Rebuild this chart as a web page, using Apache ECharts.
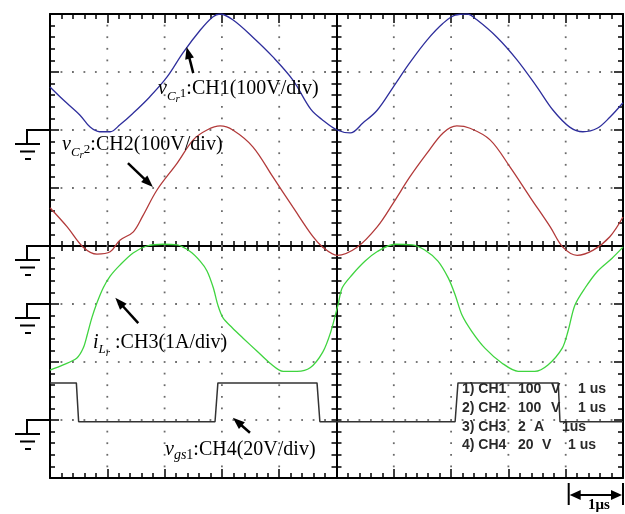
<!DOCTYPE html>
<html><head><meta charset="utf-8">
<script src="https://cdn.jsdelivr.net/npm/echarts@6/dist/echarts.min.js"></script>
<style>html,body{margin:0;padding:0;background:#fff}#c{width:625px;height:514px}</style>
</head><body><div id="c"></div>
<script>
// Time (us, relative to screen centre) and vertical position (divisions, screen centre = 0)
const ch1T = [-5.00,-4.77,-4.48,-4.30,-4.13,-3.95,-3.78,-3.55,-3.26,-2.96,-2.68,-2.38,-2.16,-2.03,-1.81,-1.46,-1.11,-0.76,-0.45,-0.24,0.01,0.24,0.46,0.71,0.99,1.28,1.58,1.86,2.07,2.28,2.45,2.80,3.15,3.50,3.78,4.07,4.30,4.55,4.77,5.00];
const ch1V = [2.74,2.52,2.26,2.05,1.97,1.97,2.09,2.29,2.57,2.91,3.33,3.72,3.95,4.00,3.90,3.60,3.26,2.86,2.36,2.17,2.00,1.95,2.12,2.34,2.74,3.16,3.55,3.84,3.98,4.00,3.90,3.60,3.21,2.74,2.34,2.05,1.97,2.03,2.22,2.47];

const ch2T = [-5.00,-4.70,-4.42,-4.18,-3.95,-3.78,-3.55,-3.38,-3.13,-2.78,-2.50,-2.26,-2.03,-1.81,-1.46,-1.11,-0.76,-0.41,-0.24,0.01,0.36,0.71,0.99,1.28,1.58,1.86,2.10,2.33,2.68,3.03,3.38,3.73,3.95,4.20,4.48,4.77,5.00];
const ch2V = [0.66,0.33,-0.02,-0.14,-0.10,0.10,0.24,0.52,0.97,1.43,1.83,2.00,2.07,2.00,1.71,1.19,0.67,0.16,-0.02,-0.16,-0.02,0.33,0.74,1.19,1.60,1.95,2.07,2.03,1.83,1.36,0.84,0.33,-0.02,-0.16,-0.07,0.16,0.50];

const ch3T = [-5.00,-4.77,-4.53,-4.42,-4.35,-4.27,-4.18,-4.07,-3.95,-3.78,-3.55,-3.31,-3.03,-2.78,-2.56,-2.38,-2.26,-2.15,-2.07,-1.98,-1.82,-1.63,-1.39,-1.16,-0.93,-0.69,-0.46,-0.24,-0.10,0.03,0.10,0.27,0.50,0.72,1.02,1.32,1.54,1.77,1.95,2.07,2.19,2.36,2.59,2.89,3.17,3.46,3.69,3.94,4.04,4.16,4.34,4.56,4.81,5.00];
const ch3V = [-2.14,-2.05,-1.93,-1.76,-1.53,-1.24,-0.98,-0.72,-0.52,-0.33,-0.12,0.00,0.03,0.02,-0.09,-0.26,-0.43,-0.72,-1.02,-1.24,-1.41,-1.59,-1.81,-2.02,-2.16,-2.16,-2.10,-1.83,-1.48,-1.00,-0.72,-0.50,-0.26,-0.09,0.03,0.02,-0.07,-0.26,-0.55,-0.84,-1.19,-1.47,-1.76,-2.02,-2.16,-2.16,-2.05,-1.76,-1.47,-1.02,-0.72,-0.43,-0.21,-0.02];

const ch4T = [-5.00,-4.54,-4.50,-2.12,-2.07,-0.34,-0.29,2.07,2.12,3.87,3.90,5.00];
const ch4V = [-2.36,-2.36,-3.03,-3.03,-2.36,-2.36,-3.03,-3.03,-2.36,-2.36,-3.03,-3.03];

// ground reference level of each channel (divisions)
const groundLevels = [2, 0, -1, -3];

// annotation arrows: [tailX, tailY, headX, headY] in (us, div)
const arrows = [[-2.50,2.98,-2.59,3.33],[-3.64,1.43,-3.28,1.09],[-3.46,-1.33,-3.79,-0.97],[-1.51,-3.22,-1.73,-3.03]];

// scope readout
const readoutRows = [
  ['1) CH1','100','V','1 us'],
  ['2) CH2','100','V','1 us'],
  ['3) CH3','2','A','1us'],
  ['4) CH4','20','V','1 us']
];

const zip = (a, b) => a.map((t, i) => [t, b[i]]);
const chart = echarts.init(document.getElementById('c'), null, {renderer: 'canvas'});

function borderAxis(pos) {
  const isY = pos === 'left' || pos === 'right';
  return {
    type: 'value', min: isY ? -4 : -5, max: isY ? 4 : 5, interval: 1,
    position: pos,
    axisLine: {onZero: false, lineStyle: {color: '#000', width: 2}},
    axisTick: {show: true, inside: true, length: 9, lineStyle: {color: '#000', width: 1.5}},
    minorTick: {show: true, splitNumber: 5, length: 5, lineStyle: {color: '#000', width: 1.5}},
    axisLabel: {show: false},
    splitLine: {show: false},
    minorSplitLine: {show: false}
  };
}
function centreAxis(pos) {
  const isY = pos === 'left' || pos === 'right';
  return {
    type: 'value', min: isY ? -4 : -5, max: isY ? 4 : 5, interval: 1,
    position: pos,
    axisLine: {onZero: true, onZeroAxisIndex: 0, lineStyle: {color: '#000', width: 2}},
    axisTick: {show: true, inside: false, length: 5, lineStyle: {color: '#000', width: 1.5}},
    minorTick: {show: true, splitNumber: 5, length: 5, lineStyle: {color: '#000', width: 1.5}},
    axisLabel: {show: false},
    splitLine: {show: false},
    minorSplitLine: {show: false}
  };
}

const lineSeries = (data, color, w, smooth) => ({
  type: 'line', data, xAxisIndex: 0, yAxisIndex: 0, showSymbol: false, symbol: 'none',
  smooth, lineStyle: {color, width: w}, silent: true, animation: false, clip: true, z: 3
});

const s1 = lineSeries(zip(ch1T, ch1V), '#2e2e9c', 1.3, 0.35);
s1.markLine = {
  silent: true, symbol: ['none', 'triangle'], symbolSize: [9, 12],
  label: {show: false}, emphasis: {disabled: true},
  lineStyle: {color: '#000', width: 2.5, type: 'solid'},
  data: arrows.map(a => [{coord: [a[0], a[1]]}, {coord: [a[2], a[3]]}])
};

chart.setOption({
  animation: false,
  backgroundColor: '#fff',
  grid: {left: 50, top: 14, width: 573, height: 464, containLabel: false},
  xAxis: [borderAxis('bottom'), borderAxis('top'), centreAxis('bottom'), centreAxis('top')],
  yAxis: [borderAxis('left'), borderAxis('right'), centreAxis('left'), centreAxis('right')],
  series: [
    s1,
    lineSeries(zip(ch2T, ch2V), '#b23a3a', 1.3, 0.35),
    lineSeries(zip(ch3T, ch3V), '#3fd43f', 1.3, 0.3),
    lineSeries(zip(ch4T, ch4V), '#333333', 1.5, false)
  ]
});

const px = (x, y) => chart.convertToPixel({gridIndex: 0}, [x, y]);
const gLeft = px(-5, 0)[0];
const graphics = [];

// dotted graticule: a dot at every minor step along each division line
const dot = (x, y) => graphics.push({type: 'rect', silent: true, z: 1,
  shape: {x: x - 0.9, y: y - 0.9, width: 1.8, height: 1.8}, style: {fill: '#6a6a6a'}});
for (let k = -4; k <= 4; k++) {
  if (k === 0) continue;
  for (let j = -19; j <= 19; j++) { const p = px(k, j / 5); dot(p[0], p[1]); }
}
for (let k = -3; k <= 3; k++) {
  if (k === 0) continue;
  for (let j = -24; j <= 24; j++) { if (j % 5 === 0) continue; const p = px(j / 5, k); dot(p[0], p[1]); }
}

// ground symbols
groundLevels.forEach(g => {
  const y = px(0, g)[1];
  const ls = {stroke: '#000', lineWidth: 2, fill: null};
  graphics.push({type: 'polyline', shape: {points: [[gLeft, y], [27, y], [27, y + 14]]}, style: ls, silent: true});
  graphics.push({type: 'line', shape: {x1: 15, y1: y + 14, x2: 40, y2: y + 14}, style: ls, silent: true});
  graphics.push({type: 'line', shape: {x1: 20, y1: y + 21.5, x2: 35, y2: y + 21.5}, style: ls, silent: true});
  graphics.push({type: 'line', shape: {x1: 25, y1: y + 29, x2: 31, y2: y + 29}, style: ls, silent: true});
});

// channel annotations
const serif = '"Liberation Serif", "Times New Roman", serif';
const rich = {
  it: {fontFamily: serif, fontStyle: 'italic', fontSize: 20, padding: [0, 0, 6, 0], verticalAlign: 'bottom', fill: '#000'},
  m: {fontFamily: serif, fontSize: 20, padding: [0, 0, 6, 0], verticalAlign: 'bottom', fill: '#000'},
  s1: {fontFamily: serif, fontStyle: 'italic', fontSize: 13, padding: [0, 0, 2, 0], verticalAlign: 'bottom', fill: '#000'},
  s2: {fontFamily: serif, fontStyle: 'italic', fontSize: 11, padding: [0, 0, 0, 0], verticalAlign: 'bottom', fill: '#000'},
  s3: {fontFamily: serif, fontSize: 13, padding: [0, 0, 5, 0], verticalAlign: 'bottom', fill: '#000'},
  s4: {fontFamily: serif, fontStyle: 'italic', fontSize: 14, padding: [0, 0, 3, 0], verticalAlign: 'bottom', fill: '#000'},
  s5: {fontFamily: serif, fontSize: 14, padding: [0, 0, 3, 0], verticalAlign: 'bottom', fill: '#000'}
};
const labels = [
  {x: 158, y: 105, text: '{it|v}{s1|C}{s2|r}{s3|1}{m|:CH1(100V/div)}'},
  {x: 62, y: 161, text: '{it|v}{s1|C}{s2|r}{s3|2}{m|:CH2(100V/div)}'},
  {x: 93, y: 358.5, text: '{it|i}{s1|L}{s2|r}{m| :CH3(1A/div)}'},
  {x: 165, y: 465.5, text: '{it|v}{s4|gs}{s5|1}{m|:CH4(20V/div)}'}
];
labels.forEach(l => graphics.push({
  type: 'text', x: l.x, y: l.y, silent: true, z: 100,
  style: {text: l.text, rich, align: 'left', verticalAlign: 'bottom', fill: '#000', font: '20px ' + serif}
}));

// scope readout
const colX = [462, 518, 551, 578];
const colX3 = [462, 518, 534, 562];
const colX4 = [462, 518, 542, 568];
const rowY = [389, 408, 427, 445];
readoutRows.forEach((row, r) => {
  const cx = r === 2 ? colX3 : (r === 3 ? colX4 : colX);
  row.forEach((s, c) => graphics.push({
    type: 'text', x: cx[c], y: rowY[r], silent: true, z: 100,
    style: {text: s, fill: '#2a2a2a', font: 'bold 14px "Liberation Sans", Arial, sans-serif', align: 'left', verticalAlign: 'middle'}
  }));
});

// 1 us scale bar
const xa = px(4, 0)[0] + 3, xb = px(5, 0)[0];
const bs = {stroke: '#000', lineWidth: 2, fill: null};
graphics.push({type: 'line', shape: {x1: xa, y1: 483, x2: xa, y2: 505}, style: bs, silent: true});
graphics.push({type: 'line', shape: {x1: xb, y1: 483, x2: xb, y2: 505}, style: bs, silent: true});
graphics.push({type: 'line', shape: {x1: xa + 8, y1: 495, x2: xb - 8, y2: 495}, style: bs, silent: true});
graphics.push({type: 'polygon', shape: {points: [[xa + 1, 495], [xa + 12, 490], [xa + 12, 500]]}, style: {fill: '#000'}, silent: true});
graphics.push({type: 'polygon', shape: {points: [[xb - 1, 495], [xb - 12, 490], [xb - 12, 500]]}, style: {fill: '#000'}, silent: true});
graphics.push({type: 'text', x: (xa + xb) / 2 + 3, y: 513, silent: true,
  style: {text: '1μs', fill: '#000', font: 'bold 15px ' + serif, align: 'center', verticalAlign: 'bottom'}});

chart.setOption({graphic: graphics});
</script>
</body></html>
